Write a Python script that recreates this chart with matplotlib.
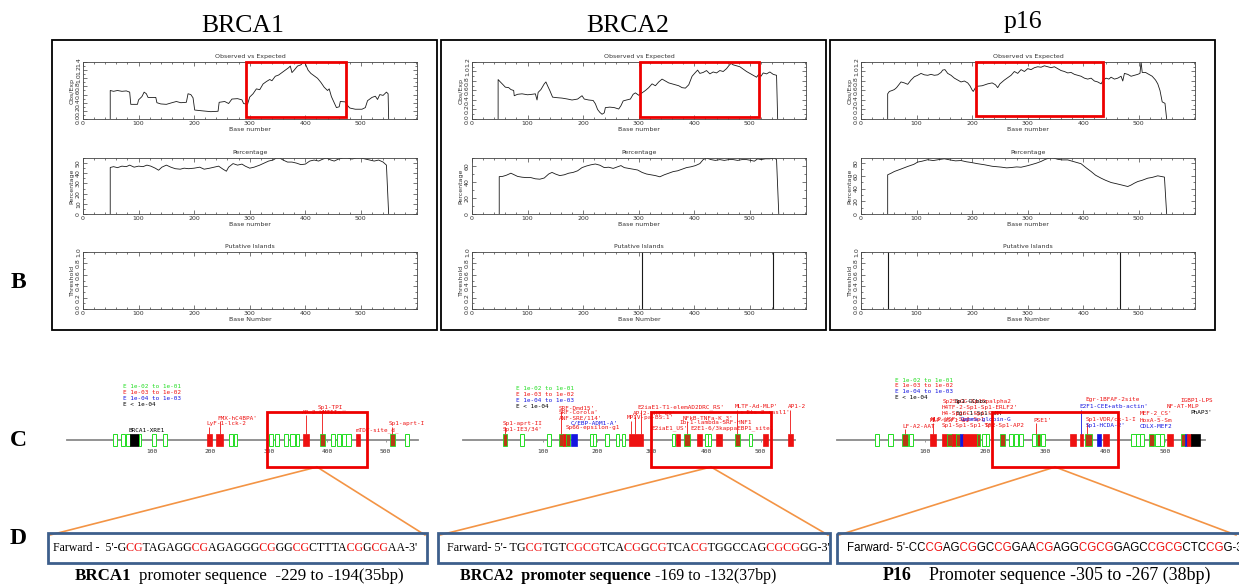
import matplotlib.pyplot as plt
from matplotlib.patches import Rectangle
from matplotlib.transforms import Bbox
from matplotlib.ticker import MultipleLocator, FormatStrFormatter

W, H = 1239, 585

genes = ['BRCA1', 'BRCA2', 'p16']

# ---- B: CpG plot traces, (base number, value) ----
brca1_oe = [(49, 0), (49, 0.70), (55, 0.68), (62, 0.70), (70, 0.68), (78, 0.69), (84, 0.66), (86, 0.36),
            (98, 0.36), (100, 0.47), (106, 0.55), (110, 0.66), (114, 0.62), (117, 0.53), (131, 0.53),
            (133, 0.40), (140, 0.37), (150, 0.36), (160, 0.40), (168, 0.43), (176, 0.40), (186, 0.41),
            (189, 0.62), (194, 0.60), (198, 0.52), (201, 0.22), (215, 0.20), (230, 0.18), (243, 0.19),
            (245, 0.41), (255, 0.43), (262, 0.38), (268, 0.49), (278, 0.50), (286, 0.47), (289, 0.38),
            (296, 0.36), (300, 0.54), (306, 0.62), (312, 0.74), (318, 0.72), (324, 0.86), (330, 0.92),
            (336, 0.97), (340, 0.94), (346, 1.05), (352, 1.08), (358, 1.14), (364, 1.20), (370, 1.26),
            (373, 1.30), (376, 1.14), (380, 1.20), (386, 1.30), (392, 1.33), (397, 1.40), (400, 1.36),
            (405, 1.20), (410, 1.12), (416, 1.06), (422, 1.00), (428, 0.90), (434, 0.78), (440, 0.70),
            (443, 0.74), (447, 0.55), (452, 0.40), (456, 0.28), (461, 0.30), (463, 0.43), (472, 0.42),
            (476, 0.33), (480, 0.27), (490, 0.24), (502, 0.24), (508, 0.28), (512, 0.45), (520, 0.53),
            (526, 0.56), (530, 0.48), (534, 0.60), (540, 0.58), (546, 0.66), (549, 0.62), (550, 0)]
brca1_pct = [(49, 0), (49, 45.7), (55, 46.5), (62, 45.5), (70, 47), (78, 46.5), (84, 48), (92, 46),
             (100, 47), (108, 46.5), (115, 48), (122, 47), (130, 45), (136, 43), (142, 46), (150, 48),
             (158, 46), (166, 44.5), (175, 44), (182, 45), (190, 44.5), (200, 45), (210, 46), (218, 44),
             (228, 45), (236, 46), (244, 47), (252, 44), (258, 42), (262, 46), (270, 49.5), (278, 48),
             (286, 49), (292, 47), (300, 45), (308, 46), (318, 48), (326, 50), (334, 52), (342, 53),
             (348, 55), (354, 55), (360, 53), (368, 51), (376, 51), (384, 50), (392, 48.5), (400, 49),
             (408, 52), (416, 53), (424, 52), (432, 54), (438, 55), (446, 53), (452, 52), (460, 54),
             (468, 55), (476, 55), (484, 54), (492, 55), (500, 55), (508, 54), (516, 53), (524, 52),
             (532, 53), (540, 51), (546, 48), (550, 0)]
brca2_oe = [(47, 0), (47, 0.83), (51, 0.78), (56, 0.72), (60, 0.67), (66, 0.66), (70, 0.62), (75, 0.60),
            (76, 0.49), (82, 0.52), (90, 0.53), (100, 0.51), (108, 0.52), (114, 0.53), (117, 0.40),
            (119, 0.56), (124, 0.62), (130, 0.74), (133, 0.78), (136, 0.70), (140, 0.60), (145, 0.46),
            (152, 0.45), (162, 0.44), (172, 0.42), (180, 0.40), (190, 0.42), (198, 0.49), (202, 0.42),
            (210, 0.40), (218, 0.39), (222, 0.32), (226, 0.20), (230, 0.14), (234, 0.10), (238, 0.13),
            (240, 0.24), (248, 0.25), (256, 0.24), (264, 0.21), (268, 0.28), (272, 0.38), (278, 0.40),
            (285, 0.42), (290, 0.52), (294, 0.55), (300, 0.50), (306, 0.55), (312, 0.60), (318, 0.66),
            (324, 0.74), (330, 0.70), (336, 0.78), (342, 0.84), (348, 0.80), (354, 0.76), (360, 0.74),
            (366, 0.72), (372, 0.70), (378, 0.66), (384, 0.65), (390, 0.72), (396, 0.90), (402, 0.98),
            (406, 1.03), (410, 0.96), (416, 0.98), (422, 1.02), (428, 0.95), (434, 0.99), (440, 0.97),
            (446, 1.02), (452, 1.00), (458, 1.06), (462, 1.12), (466, 1.17), (470, 1.14), (476, 1.12),
            (482, 1.10), (488, 1.05), (494, 1.00), (500, 0.96), (506, 0.92), (512, 0.88), (516, 0.94),
            (520, 0.90), (524, 0.97), (530, 0.95), (536, 0.99), (542, 0.94), (548, 0.92), (550, 0)]
brca2_pct = [(49, 0), (49, 46.7), (55, 47), (62, 48.5), (70, 51), (76, 49), (82, 47), (90, 46),
             (98, 45.5), (106, 45.5), (114, 44), (122, 43.5), (130, 45), (138, 50), (144, 52), (150, 50),
             (158, 48), (166, 49), (174, 51), (182, 52), (190, 54), (198, 58), (206, 60), (214, 61.5),
             (222, 62.5), (230, 61), (238, 58), (246, 58.5), (254, 57), (262, 59), (268, 60.5), (274, 58),
             (282, 57), (290, 56), (298, 55), (306, 52), (314, 50), (322, 49), (330, 48), (338, 46.5),
             (346, 49), (354, 51), (362, 53), (370, 54), (378, 56), (386, 58), (394, 59), (402, 60.5),
             (410, 63), (416, 68), (422, 70), (430, 68), (438, 67), (446, 68), (454, 67), (462, 68),
             (470, 68), (478, 67), (486, 68), (494, 68), (502, 67), (508, 66), (514, 69), (520, 68),
             (528, 69), (536, 69), (544, 70), (548, 68), (552, 0)]
p16_oe = [(48, 0), (48, 0.53), (51, 0.58), (56, 0.60), (60, 0.62), (64, 0.66), (68, 0.72), (72, 0.78),
          (78, 0.76), (84, 0.73), (90, 0.82), (96, 0.89), (102, 0.92), (108, 0.96), (114, 0.93),
          (120, 0.92), (126, 0.94), (132, 0.92), (138, 0.93), (144, 0.98), (147, 1.03), (151, 1.04),
          (156, 0.96), (162, 0.92), (168, 0.86), (174, 0.82), (180, 0.78), (186, 0.80), (192, 0.76),
          (196, 0.70), (200, 0.61), (202, 0.58), (206, 0.66), (210, 0.69), (218, 0.70), (228, 0.74),
          (236, 0.76), (242, 0.72), (246, 0.66), (250, 0.74), (258, 0.82), (264, 0.87), (270, 0.92),
          (276, 1.00), (282, 0.96), (288, 1.04), (294, 1.00), (300, 1.06), (306, 1.04), (312, 1.08),
          (318, 1.10), (324, 1.09), (330, 1.12), (336, 1.10), (342, 1.08), (348, 1.10), (354, 1.06),
          (360, 1.02), (366, 1.00), (372, 0.97), (378, 0.98), (384, 0.94), (390, 0.92), (396, 0.90),
          (402, 0.86), (408, 0.84), (414, 0.86), (420, 0.80), (426, 0.78), (432, 0.74), (436, 0.82),
          (441, 0.86), (446, 0.84), (450, 0.88), (456, 0.84), (462, 0.86), (468, 0.90), (471, 0.80),
          (474, 0.96), (480, 0.94), (486, 0.90), (492, 0.92), (498, 0.94), (502, 0.96), (504, 1.20),
          (506, 0.98), (512, 0.98), (518, 0.94), (524, 0.90), (530, 0.82), (534, 0.74), (538, 0.60),
          (542, 0.36), (547, 0.33), (550, 0)]
p16_pct = [(48, 0), (48, 61.6), (54, 64), (60, 66.8), (70, 70), (84, 74.7), (95, 78), (102, 81.6),
           (110, 83), (120, 85.3), (130, 84), (140, 85.5), (150, 86.8), (160, 85), (170, 83.5), (180, 84),
           (190, 82), (198, 81), (210, 79), (222, 77.4), (236, 75), (252, 73.7), (262, 72.5), (270, 73),
           (280, 74), (288, 73.5), (298, 75.5), (306, 77.4), (316, 80), (324, 82.6), (332, 86), (339, 88),
           (346, 88), (354, 86), (362, 85), (372, 85), (384, 82), (396, 79), (406, 72), (414, 66.8),
           (422, 61), (432, 56.3), (440, 53), (450, 49.5), (460, 47.5), (468, 45.8), (474, 44.5),
           (480, 43.2), (486, 45.5), (492, 48.5), (498, 51), (506, 53), (516, 56.3), (524, 57.5),
           (534, 60), (540, 59), (546, 58), (550, 0)]
oe_data = [brca1_oe, brca2_oe, p16_oe]
pct_data = [brca1_pct, brca2_pct, p16_pct]
oe_ymax = [1.4, 1.2, 1.2]
pct_ymax = [55, 70, 88]
pct_step = [10, 20, 20]
islands = [[], [305, 541], [49, 466]]
# highlighted region on the obs/exp plots: (start, end, bottom, top)
oe_boxes = [(294, 473, 0.05, 1.39), (302, 517, 0.035, 1.19), (207, 435, 0.07, 1.19)]

# ---- C: transcription factor sites (start bp, end bp, kind) ----
brca1_feat = [(33, 40, 'g'), (46, 53, 'g'), (55, 62, 'g'), (62, 78, 'k'), (78, 80, 'g'), (100, 107, 'g'),
              (119, 126, 'g'), (193, 202, 'r'), (210, 221, 'r'), (232, 239, 'g'), (240, 246, 'g'),
              (300, 307, 'g'), (310, 317, 'g'), (326, 333, 'g'), (337, 344, 'g'), (346, 352, 'g'),
              (358, 369, 'r'), (388, 397, 'br'), (407, 414, 'g'), (416, 423, 'g'), (425, 432, 'g'),
              (433, 440, 'g'), (449, 456, 'r'), (508, 517, 'br'), (533, 540, 'g')]
brca2_feat = [(27, 35, 'br'), (59, 66, 'g'), (109, 116, 'g'), (131, 137, 'br'), (137, 143, 'r'),
              (143, 150, 'br'), (152, 164, 'b'), (187, 193, 'g'), (193, 199, 'g'), (215, 222, 'g'),
              (234, 241, 'g'), (245, 252, 'g'), (259, 285, 'r'), (337, 344, 'g'), (345, 353, 'r'),
              (360, 371, 'br'), (383, 393, 'r'), (398, 404, 'g'), (404, 410, 'g'), (418, 429, 'r'),
              (453, 462, 'br'), (478, 485, 'g'), (505, 514, 'r'), (551, 559, 'r')]
p16_feat = [(16, 23, 'g'), (39, 46, 'g'), (61, 71, 'br'), (73, 80, 'g'), (108, 118, 'r'), (129, 136, 'r'),
            (136, 145, 'br'), (145, 152, 'r'), (152, 158, 'br'), (158, 164, 'b'), (164, 186, 'r'),
            (186, 192, 'br'), (195, 201, 'g'), (201, 207, 'g'), (225, 233, 'br'), (240, 247, 'g'),
            (248, 255, 'g'), (256, 263, 'g'), (278, 285, 'g'), (286, 292, 'br'), (294, 300, 'g'),
            (342, 352, 'r'), (358, 364, 'r'), (367, 378, 'br'), (387, 393, 'b'), (397, 406, 'r'),
            (444, 451, 'g'), (451, 458, 'g'), (458, 465, 'g'), (474, 481, 'br'), (484, 491, 'g'),
            (491, 498, 'g'), (504, 514, 'r'), (526, 533, 'br'), (533, 537, 'b'), (537, 544, 'r'),
            (544, 558, 'k')]
# site labels: (text, left bp, height, colour, bp of its tick or None)
brca1_labels = [("BRCA1-XRE1", 60, 32, 'k', None), ("FMX-hC4BPA'", 211, 44, 'r', 216),
                ("LyF-1-lck-2", 192, 38, 'r', 197), ("AP-2-hMTIIa", 357, 50, 'r', 364),
                ("Sp1-TPI_", 384, 55, 'r', 391), ("mTDT-site_d_", 448, 32, 'r', None),
                ("Sp1-aprt-I", 506, 38, 'r', 512)]
brca2_labels = [("Sp1-aprt-II", 27, 38, 'r', 31), ("Sp1-IE3/34'", 27, 33, 'r', None),
                ("SRF-Dmd15'", 130, 54, 'r', 134), ("SRF-Corola'", 130, 49, 'r', None),
                ("ANF-SRE/114'", 130, 44, 'r', None), ("C/EBP-ADM1-A'", 152, 39, 'b', None),
                ("Sp66-epsilon-g1", 143, 34, 'r', None), ("E2iaE1-T1-elemAD2DRC_RS'", 275, 55, 'r', 280),
                ("AP-2-hMT_US'", 266, 49, 'r', 270), ("MPIV-pa-BS.1'", 255, 44, 'r', 262),
                ("E2iaE1_US'", 299, 34, 'r', None), ("NFkB-TNFa-K_3'", 358, 44, 'r', 365),
                ("Ib-1-lambda-SRF-HNF1", 352, 39, 'r', None), ("E2E1-6/3kappaEBP1_site1", 372, 34, 'r', None),
                ("MLTF-Ad-MLP'", 453, 55, 'r', 457), ("c-Ets-2-rasl1'", 462, 49, 'r', None),
                ("AP1-2", 550, 55, 'r', 555)]
p16_labels = [("LF-A2-AAT", 62, 36, 'r', 66), ("MLP-USF1-A1", 108, 42, 'r', 113),
              ("Sp2SpGC-Sp1Spalpha2", 130, 61, 'r', None), ("Sp1-GCbox", 150, 61, 'k', None),
              ("H4TF-2-Sp1-Sp1-ERLF2'", 128, 55, 'r', None), ("Egr-1-Sp1-hMT", 150, 49, 'k', None),
              ("H4-Sp1GC-Sp1-Sp1", 127, 49, 'r', None), ("MLP-USF-Sp1-Sp1", 110, 42, 'r', None),
              ("Gamma-globin-G", 160, 42, 'b', None), ("Sp1-Sp1-Sp1-TF2", 128, 36, 'r', None),
              ("Sp1-Sp1-AP2", 200, 36, 'r', None), ("PSE1'", 280, 42, 'r', 285),
              ("Egr-1BFAF-2site", 367, 62, 'r', None), ("E2F1-CEE+atb-actin'", 358, 55, 'b', 360),
              ("Sp1-VDR/ck-1-I", 367, 42, 'r', 370), ("Sp1-HCDA-2'", 368, 36, 'b', None),
              ("MEF-2_CS'", 458, 49, 'r', None), ("HoxA-5-Sm", 458, 42, 'r', None),
              ("CDLX-MEF2", 458, 36, 'b', None), ("NF-AT-MLP", 503, 55, 'r', None),
              ("IGBP1-LPS", 525, 62, 'r', None), ("PhAP3'", 542, 49, 'k', None)]
feat_data = [brca1_feat, brca2_feat, p16_feat]
label_data = [brca1_labels, brca2_labels, p16_labels]
legend_rows = [("E 1e-02 to 1e-01", 'g'), ("E 1e-03 to 1e-02", 'r'),
               ("E 1e-04 to 1e-03", 'b'), ("E < 1e-04", 'k')]

# ---- D: promoter sequences, CpG sites in red ----
brca1_seq = [("Farward -  5'-G", 'k'), ("CG", 'r'), ("TAGAGG", 'k'), ("CG", 'r'), ("AGAGGG", 'k'),
             ("CG", 'r'), ("GG", 'k'), ("CG", 'r'), ("CTTTA", 'k'), ("CG", 'r'), ("G", 'k'), ("CG", 'r'),
             ("AA-3'", 'k')]
brca2_seq = [("Farward- 5'- TG", 'k'), ("CG", 'r'), ("TGT", 'k'), ("CGCG", 'r'), ("TCA", 'k'), ("CG", 'r'),
             ("G", 'k'), ("CG", 'r'), ("TCA", 'k'), ("CG", 'r'), ("TGGCCAG", 'k'), ("CGCG", 'r'),
             ("GG-3'", 'k')]
p16_seq = [("Farward- 5'-CC", 'k'), ("CG", 'r'), ("AG", 'k'), ("CG", 'r'), ("GC", 'k'), ("CG", 'r'),
           ("GAA", 'k'), ("CG", 'r'), ("AGG", 'k'), ("CGCG", 'r'), ("GAGC", 'k'), ("CGCG", 'r'),
           ("CTC", 'k'), ("CG", 'r'), ("G-3'", 'k')]
seq_data = [brca1_seq, brca2_seq, p16_seq]
captions = [("BRCA1", "promoter sequence  -229 to -194(35bp)"),
            ("BRCA2  promoter sequence", "-169 to -132(37bp)"),
            ("P16", "Promoter sequence -305 to -267 (38bp)")]

COL = {'g': '#22dd22', 'r': '#ee1111', 'b': '#1515e0', 'k': '#000000', 'br': '#b83a14'}
TXT = '#333333'
SERIF = 'Liberation Serif'
MONO = 'DejaVu Sans Mono'

fig = plt.figure(figsize=(W / 100, H / 100), dpi=100)
renderer = fig.canvas.get_renderer()


def px_axes(x0, y0, x1, y1):
    return fig.add_axes([x0 / W, 1 - y1 / H, (x1 - x0) / W, (y1 - y0) / H])


def cpg_style(ax, title, xlabel, ylabel, ymax, ystep, fmt):
    ax.set_xlim(0, 601)
    ax.set_ylim(0, ymax)
    ax.set_xticks(range(0, 501, 100))
    ax.xaxis.set_minor_locator(MultipleLocator(20))
    ax.yaxis.set_major_locator(MultipleLocator(ystep))
    ax.yaxis.set_minor_locator(MultipleLocator(ystep / 2))
    ax.yaxis.set_major_formatter(FormatStrFormatter(fmt))
    ax.tick_params(which='both', direction='in', top=True, right=True, width=0.5, color='#444444',
                   labelsize=4.5, labelcolor=TXT, pad=1.5)
    ax.tick_params(which='major', length=3)
    ax.tick_params(which='minor', length=1.5)
    ax.tick_params(axis='y', labelrotation=90)
    plt.setp(ax.get_yticklabels(), va='center')
    for s in ax.spines.values():
        s.set_linewidth(0.6)
        s.set_color('#444444')
    ax.set_title(title, fontsize=4.5, color=TXT, pad=3)
    ax.set_xlabel(xlabel, fontsize=4.5, color=TXT, labelpad=0.5)
    ax.set_ylabel(ylabel, fontsize=4.5, color=TXT, labelpad=1)


def colored_text(ax, x, y, parts, **kw):
    # whole string drawn once per colour, each copy clipped to its own stretch
    full = ''.join(s for s, c in parts)
    probe = ax.text(x, y, full, **kw)
    bb = probe.get_window_extent(renderer)
    probe.remove()
    bounds = [bb.x0 - 4]
    prefix = ''
    for s, c in parts[:-1]:
        prefix += s
        probe = ax.text(x, y, prefix, **kw)
        bounds.append(probe.get_window_extent(renderer).x1 + 0.5)
        probe.remove()
    bounds.append(bb.x1 + 4)
    for k, (s, c) in enumerate(parts):
        t = ax.text(x, y, full, color=COL[c], clip_on=True, **kw)
        t.set_clip_box(Bbox([[bounds[k], 0], [bounds[k + 1], H]]))


panel_left = [52, 441, 830]
for i, g in enumerate(genes):
    left = panel_left[i] + 31
    right = left + 334

    ax = px_axes(left, 62, right, 119)
    x, y = zip(*oe_data[i])
    ax.plot(x, y, color='#1a1a1a', lw=0.6)
    cpg_style(ax, 'Observed vs Expected', 'Base number', 'Obs/Exp', oe_ymax[i], 0.2, '%.1f')
    b0, b1, bb, bt = oe_boxes[i]
    ax.add_patch(Rectangle((b0, bb), b1 - b0, bt - bb, fill=False, ec='#ee0000', lw=2,
                           clip_on=False, zorder=5))

    ax = px_axes(left, 158, right, 214)
    x, y = zip(*pct_data[i])
    ax.plot(x, y, color='#1a1a1a', lw=0.6)
    cpg_style(ax, 'Percentage', 'Base number', 'Percentage', pct_ymax[i], pct_step[i], '%d')

    ax = px_axes(left, 252, right, 309)
    if islands[i]:
        ax.vlines(islands[i], 0, 1, color='#1a1a1a', lw=0.8)
    cpg_style(ax, 'Putative Islands', 'Base Number', 'Threshold', 1.0, 0.2, '%.1f')

# ---- C tracks ----
track_zero = [94, 488, 865]
track_scale = [0.583, 0.545, 0.60]
track_span = [(67, 418), (463, 795), (837, 1205)]
legend_pos = [(50, 75), (51, 73), (50, 82)]
for i, g in enumerate(genes):
    x0, x1 = track_span[i]
    z, s = track_zero[i], track_scale[i]
    ax = px_axes(x0, 372, x1, 462)
    ax.set_xlim((x0 - z) / s, (x1 - z) / s)
    ax.set_ylim(0, 90)
    ax.patch.set_visible(False)
    for k in ['top', 'left', 'right']:
        ax.spines[k].set_visible(False)
    ax.spines['bottom'].set_position(('data', 22))
    ax.spines['bottom'].set_color('#8a8a8a')
    ax.spines['bottom'].set_linewidth(1.3)
    ax.set_yticks([])
    ax.set_xticks(range(100, 501, 100))
    ax.tick_params(axis='x', length=1.5, width=0.6, color='#8a8a8a', labelsize=4.5,
                   labelcolor=TXT, pad=5)
    plt.setp(ax.get_xticklabels(), family=MONO)

    for a, b, kind in feat_data[i]:
        if kind == 'g':
            ax.add_patch(Rectangle((a, 16), b - a, 12, fc='white', ec=COL['g'], lw=0.7, zorder=3))
        elif kind == 'br':
            ax.add_patch(Rectangle((a, 16), b - a, 12, fc=COL['br'], ec=COL['g'], lw=0.6, zorder=3))
        else:
            ax.add_patch(Rectangle((a, 16), b - a, 12, fc=COL[kind], ec=COL[kind], lw=0.5, zorder=3))

    for text, lb, ly, c, anchor in label_data[i]:
        ax.text(lb, ly, text, color=COL[c], fontsize=4.3, family=MONO, va='center', ha='left',
                zorder=4)
        if anchor is not None:
            ax.vlines(anchor, 28, ly - 2.5, color=COL[c], lw=0.6, zorder=4)

    lx, ly = legend_pos[i]
    for j, (text, c) in enumerate(legend_rows):
        ax.text(lx, ly - j * 5.8, text, color=COL[c], fontsize=4.3, family=MONO, va='center', ha='left')

# ---- overlay: panel frames, letters, zoom boxes, sequences ----
ov = fig.add_axes([0, 0, 1, 1])
ov.set_xlim(0, W)
ov.set_ylim(H, 0)
ov.axis('off')

title_pos = [(243, 26), (628, 26), (1023, 22)]
for i, g in enumerate(genes):
    ov.text(*title_pos[i], g, fontsize=18.5, family=SERIF, ha='center', va='center')
    ov.add_patch(Rectangle((panel_left[i], 40), 385, 290, fill=False, ec='black', lw=1.3))

for letter, yy in [('B', 283), ('C', 440), ('D', 538)]:
    ov.text(18, yy, letter, fontsize=17, family=SERIF, weight='bold', ha='center', va='center')

cbox = [(267, 367), (651, 771), (992, 1118)]
dbox = [(48, 427), (438, 830), (837, 1250)]
for i in range(3):
    a, b = cbox[i]
    ov.add_patch(Rectangle((a, 412), b - a, 55, fill=False, ec='#ee0000', lw=2, zorder=6))
    cx = (a + b) / 2
    d0, d1 = dbox[i]
    ov.plot([cx, d0 + 2], [467, 535], color='#f39445', lw=1.2, zorder=5)
    ov.plot([cx, min(d1 - 2, 1236)], [467, 535], color='#f39445', lw=1.2, zorder=5)
    ov.add_patch(Rectangle((d0, 533), d1 - d0, 30, fill=False, ec='#3d5f8c', lw=2, zorder=6))

seq_start = [53, 447, 847]
seq_font = [(SERIF, 8.55), (SERIF, 8.7), ('Liberation Sans', 8.3)]
for i in range(3):
    fam, size = seq_font[i]
    colored_text(ov, seq_start[i], 548, seq_data[i], fontsize=size, family=fam, va='center', ha='left')

cap_start = [75, 460, 883]
cap_size = [12.2, 11.5, 12.9]
cap_gap = [5, 3, 12]
for i in range(3):
    bold, rest = captions[i]
    t = ov.text(cap_start[i], 576, bold, fontsize=cap_size[i], family=SERIF, weight='bold',
                va='center', ha='left')
    ov.annotate(rest, xy=(1, 0), xycoords=t, xytext=(cap_gap[i], 0), textcoords='offset points',
                va='bottom', ha='left', fontsize=cap_size[i], family=SERIF)

fig.savefig('out.png', dpi=100)
